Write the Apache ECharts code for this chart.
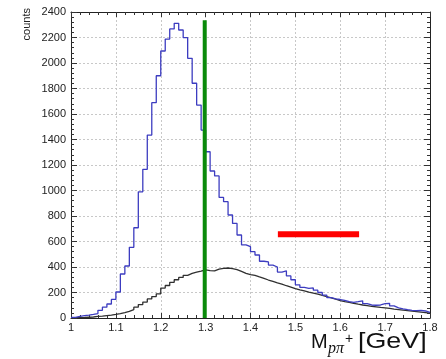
<!DOCTYPE html>
<html>
<head>
<meta charset="utf-8">
<script src="https://cdn.jsdelivr.net/npm/echarts@6/dist/echarts.min.js"></script>
<style>
html,body{margin:0;padding:0;background:#fff;}
#chart{width:446px;height:359px;}
</style>
</head>
<body>
<div id="chart"></div>
<script>
// Histogram binning (x from 1.00 to 1.80 GeV, 0.01 GeV bins)
const xMin = 1.0;
const xMax = 1.8;
const binWidth = 0.01;
const xTicks = [1, 1.1, 1.2, 1.3, 1.4, 1.5, 1.6, 1.7, 1.8];
const yTicks = [0, 200, 400, 600, 800, 1000, 1200, 1400, 1600, 1800, 2000, 2200, 2400];

// Blue histogram counts per bin
const blueCounts = [
  5, 12, 18, 22, 28, 35, 60, 85, 110, 146,
  204, 345, 408, 554, 708, 990, 1166, 1435, 1689, 1900,
  2094, 2188, 2267, 2311, 2259, 2199, 2037, 1841, 1670, 1474,
  1304, 1153, 1114, 946, 912, 808, 742, 651, 573, 559,
  520, 494, 445, 440, 415, 400, 360, 370, 330, 300,
  260, 240, 232, 236, 218, 200, 180, 160, 150, 145,
  138, 128, 122, 128, 135, 112, 102, 100, 102, 112,
  115, 95, 80, 72, 65, 60, 58, 60, 55, 45
];

// Black histogram counts per bin
const blackCounts = [
  2, 3, 4, 6, 8, 12, 15, 19, 23, 28,
  34, 42, 52, 66, 85, 105, 125, 150, 168, 190,
  235, 255, 280, 300, 318, 335, 350, 360, 368, 378,
  372, 370, 384, 390, 392, 388, 380, 365, 350, 340,
  335, 322, 310, 298, 287, 275, 265, 253, 242, 230,
  220, 212, 203, 195, 187, 178, 168, 158, 148, 137,
  128, 122, 115, 108, 102, 97, 92, 88, 83, 79,
  75, 70, 66, 62, 58, 54, 50, 46, 42, 38
];

// Marker lines
const greenLine = [[1.298, 0], [1.298, 2335]];
const redLine = [[1.461, 657], [1.642, 657]];

function histPoints(counts) {
  const pts = counts.map((v, i) => [+(xMin + i * binWidth).toFixed(2), v]);
  pts.push([xMax, counts[counts.length - 1]]);
  return pts;
}

const chart = echarts.init(document.getElementById('chart'), null, {renderer: 'canvas'});

const labelFont = {fontFamily: 'Liberation Sans, Arial, sans-serif', fontSize: 11, color: '#222'};

function xAxisCfg(pos, showLabels) {
  return {
    type: 'value', position: pos, min: xMin, max: xMax, interval: 0.1,
    axisLine: {show: true, onZero: false, lineStyle: {color: '#222', width: 1}},
    axisTick: {show: true, inside: true, length: 5, lineStyle: {color: '#333'}},
    minorTick: {show: true, splitNumber: 5, length: 3, lineStyle: {color: '#333'}},
    splitLine: {show: showLabels, lineStyle: {color: '#c8c8c8', type: [2, 2], width: 1}},
    axisLabel: Object.assign({show: showLabels, margin: 4,
      formatter: v => { const r = Math.round(v * 10) / 10; return xTicks.includes(r) ? String(r) : ''; }}, labelFont)
  };
}
function yAxisCfg(pos, showLabels) {
  return {
    type: 'value', position: pos, min: 0, max: 2400, interval: 200,
    axisLine: {show: true, onZero: false, lineStyle: {color: '#222', width: 1}},
    axisTick: {show: true, inside: true, length: 6, lineStyle: {color: '#333'}},
    minorTick: {show: true, splitNumber: 5, length: 3, lineStyle: {color: '#333'}},
    splitLine: {show: showLabels, lineStyle: {color: '#c8c8c8', type: [2, 2], width: 1}},
    axisLabel: Object.assign({show: showLabels, margin: 5,
      formatter: v => yTicks.includes(v) ? String(v) : ''}, labelFont)
  };
}

chart.setOption({
  animation: false,
  backgroundColor: '#fff',
  grid: {left: 71, right: 16, top: 12, bottom: 41, containLabel: false},
  xAxis: [xAxisCfg('bottom', true), xAxisCfg('top', false)],
  yAxis: [yAxisCfg('left', true), yAxisCfg('right', false)],
  series: [
    {type: 'line', step: 'end', data: histPoints(blackCounts), showSymbol: false,
     lineStyle: {color: '#303030', width: 1.3}, z: 3},
    {type: 'line', step: 'end', data: histPoints(blueCounts), showSymbol: false,
     lineStyle: {color: '#3c3cc0', width: 1.3}, z: 4},
    {type: 'line', data: greenLine, showSymbol: false,
     lineStyle: {color: '#0a8a0a', width: 4, cap: 'butt'}, z: 5},
    {type: 'line', data: redLine, showSymbol: false,
     lineStyle: {color: '#ff0000', width: 6, cap: 'butt'}, z: 5}
  ],
  graphic: [
    {type: 'text', left: 21, top: 8, rotation: Math.PI / 2,
     style: {text: 'counts', fontFamily: 'Liberation Sans, Arial, sans-serif', fontSize: 11, fill: '#222'}},
    {type: 'text', left: 311, top: 332,
     style: {text: 'M', fontFamily: 'Liberation Sans, Arial, sans-serif', fontSize: 20, fill: '#111'}},
    {type: 'text', left: 328, top: 341,
     style: {text: 'pπ', fontFamily: 'Liberation Serif, serif', fontStyle: 'italic', fontSize: 16, fill: '#111'}},
    {type: 'text', left: 345, top: 332,
     style: {text: '+', fontFamily: 'Liberation Sans, Arial, sans-serif', fontSize: 14, fill: '#111'}},
    {type: 'text', left: 358, top: 331, scaleX: 1.22,
     style: {text: '[GeV]', fontFamily: 'Liberation Sans, Arial, sans-serif', fontSize: 22, fill: '#111'}}
  ]
});
</script>
</body>
</html>
